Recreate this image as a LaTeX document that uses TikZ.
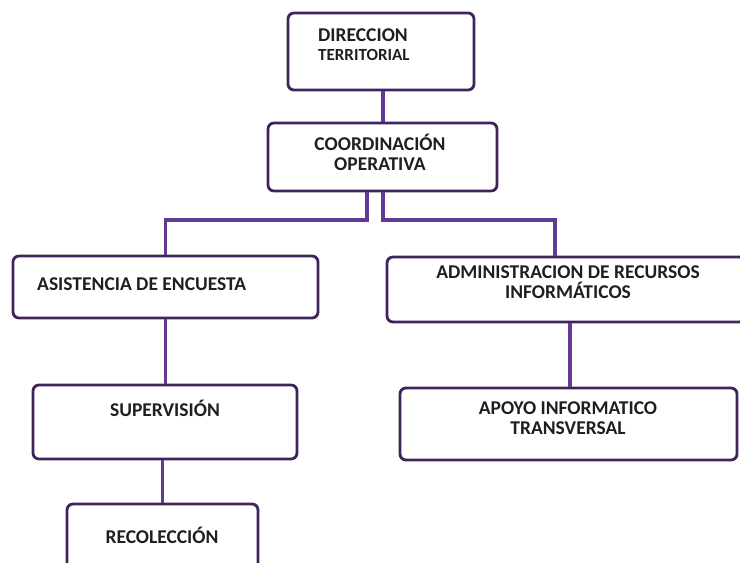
\documentclass[tikz,border=0pt]{standalone}
\usepackage{fontspec}
\setmainfont{Carlito}
\usetikzlibrary{positioning, calc}
\definecolor{boxpurple}{RGB}{62, 36, 88}
\definecolor{linkpurple}{RGB}{98, 58, 148}

\begin{document}
\begin{tikzpicture}[x=1pt, y=-1pt,
  unit/.style={draw=boxpurple, line width=2.8pt, rounded corners=6pt, fill=white, inner sep=0pt},
  lbl/.style={font=\bfseries\fontsize{19.5}{20}\selectfont, align=center, inner sep=0pt, text=black!88},
  link/.style={draw=linkpurple, line width=3.6pt}]
  \useasboundingbox (0,0) rectangle (740,563);

  % Boxes
  \node[unit, minimum width=186pt, minimum height=77pt] (dir) at (381,51.5) {};
  \node[unit, minimum width=229pt, minimum height=68pt] (coord) at (382.5,157) {};
  \node[unit, minimum width=305pt, minimum height=62pt] (asis) at (165.5,287) {};
  \node[unit, minimum width=358pt, minimum height=65pt] (admin) at (566,289.5) {};
  \node[unit, minimum width=264pt, minimum height=74pt] (sup) at (165,422) {};
  \node[unit, minimum width=337pt, minimum height=72pt] (apoyo) at (568.5,424) {};
  \node[unit, minimum width=191pt, minimum height=71pt] (recol) at (162.5,539.5) {};

  % Labels
  \node[lbl, anchor=west] (dir-a) at (318,35) {DIRECCION};
  \node[lbl, anchor=west, font=\bfseries\fontsize{17}{18}\selectfont] (dir-b) at (318,55) {TERRITORIAL};
  \node[lbl] (coord-t) at (380,152) {COORDINACIÓN\\OPERATIVA};
  \node[lbl, anchor=west] (asis-t) at (37,284) {ASISTENCIA DE ENCUESTA};
  \node[lbl] (admin-t) at (568,282.5) {ADMINISTRACION DE RECURSOS\\INFORMÁTICOS};
  \node[lbl] (sup-t) at (165,408) {SUPERVISIÓN};
  \node[lbl] (apoyo-t) at (568,418) {APOYO INFORMATICO\\TRANSVERSAL};
  \node[lbl] (recol-t) at (162,535) {RECOLECCIÓN};

  % Connectors
  \coordinate (jl) at (367,220);
  \coordinate (jr) at (383,220);
  \draw[link] (dir.south -| jr) -- (coord.north -| jr);
  \draw[link] (coord.south -| jl) -- (jl) -| (asis.north);
  \draw[link] (coord.south -| jr) -- (jr) -| ([xshift=-11pt]admin.north);
  \draw[link] (asis.south) -- (asis.south |- sup.north);
  \draw[link] ([xshift=4pt]admin.south) -- ([xshift=4pt]admin.south |- apoyo.north);
  \draw[link] (recol.north |- sup.south) -- (recol.north);
\end{tikzpicture}
\end{document}
